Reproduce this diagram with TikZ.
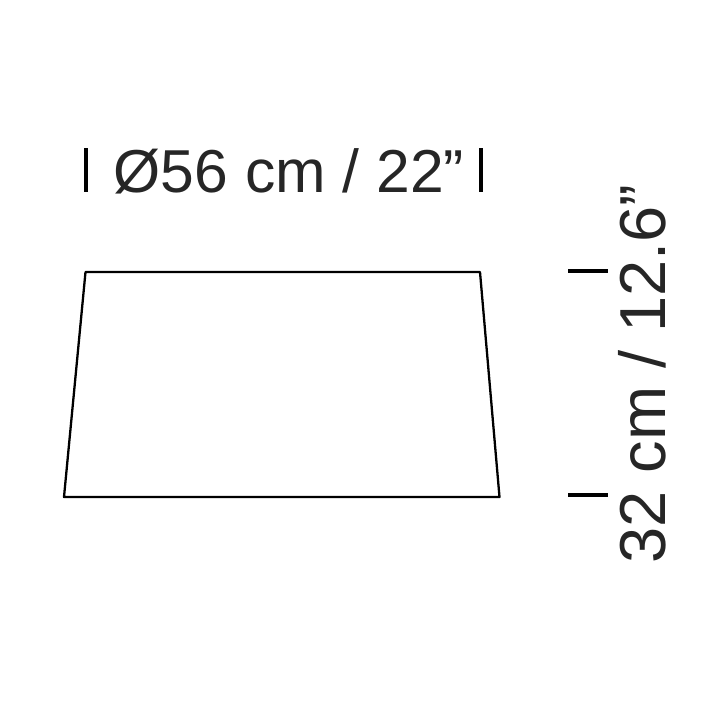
\documentclass[tikz,border=0pt]{standalone}
\usepackage{fontspec}
\setmainfont{Liberation Sans}
\begin{document}
\begin{tikzpicture}[x=0.02cm,y=-0.02cm,inner sep=0mm]
\tikzset{mark line/.style={line width=2.3pt},
         dim text/.style={font=\fontsize{34.5}{40}\selectfont, text=black!85}}
\useasboundingbox (0,0) rectangle (728,728);

%\draw[black!30!white] (0,0) rectangle (728,728);
% shade outline
\draw[line width=1.3pt, line join=round] (85.5,272) -- (480,272) -- (499.5,497) -- (64,497) -- cycle;
% width
\draw[mark line] (86,148) -- (86,192);
\draw[mark line] (481,148) -- (481,192);
\node(w) at (289,192) [dim text, anchor=base] {Ø56 cm / 22”};
% height
\draw[mark line] (568,271) -- (608,271);
\draw[mark line] (568,495) -- (608,495);
\node(h) at (665,374) [dim text, anchor=base, rotate=90, font=\fontsize{37}{40}\selectfont] {32 cm / 12.6”};

\end{tikzpicture}
\end{document}
